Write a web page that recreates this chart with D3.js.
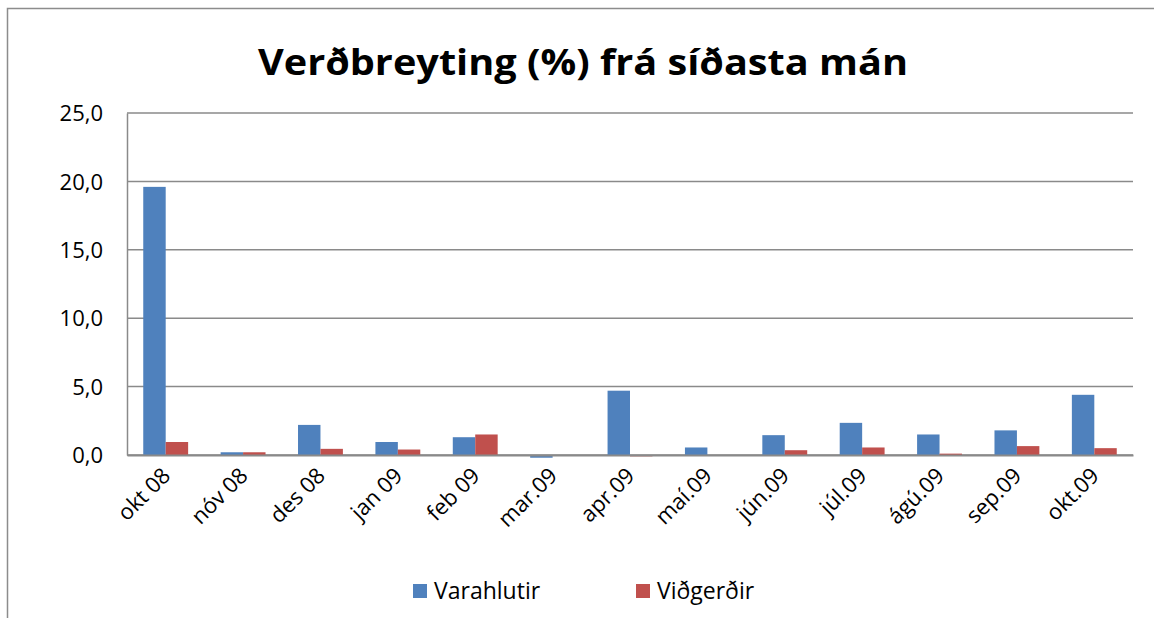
<!DOCTYPE html>
<html>
<head>
<meta charset="utf-8">
<script src="https://cdn.jsdelivr.net/npm/d3@7"></script>
<style>
  body { margin: 0; background: #fff; }
  text { font-family: "Open Sans", "DejaVu Sans", sans-serif; fill: #000; }
</style>
</head>
<body>
<div id="chart"></div>
<script>
const months = ["okt 08", "nóv 08", "des 08", "jan 09", "feb 09", "mar.09", "apr.09",
  "maí.09", "jún.09", "júl.09", "ágú.09", "sep.09", "okt.09"];
const varahlutir = [19.6, 0.2, 2.2, 0.95, 1.3, -0.2, 4.7, 0.55, 1.45, 2.35, 1.5, 1.8, 4.4];
const vidgerdir = [0.95, 0.2, 0.45, 0.4, 1.5, 0.0, -0.1, 0.0, 0.35, 0.55, 0.1, 0.65, 0.5];
const seriesNames = ["Varahlutir", "Viðgerðir"];
const seriesColors = ["#4f81bd", "#c0504d"];
const yTicks = [0, 5, 10, 15, 20, 25];

const W = 1154, H = 618;
const margin = {top: 113, right: 21, bottom: 163, left: 127};
const width = W - margin.left - margin.right,
  height = H - margin.top - margin.bottom;

const svg = d3.select("#chart").append("svg")
  .attr("width", W)
  .attr("height", H);

// outer chart frame
svg.append("path")
  .attr("d", "M7.5,620 V8.5 H1160")
  .attr("fill", "none")
  .attr("stroke", "#8c8c8c")
  .attr("stroke-width", 1.5);

svg.append("text")
  .attr("x", 583)
  .attr("y", 75)
  .attr("text-anchor", "middle")
  .attr("font-size", 36)
  .attr("font-weight", "bold")
  .attr("textLength", 650)
  .attr("lengthAdjust", "spacingAndGlyphs")
  .text("Verðbreyting (%) frá síðasta mán");

const g = svg.append("g")
  .attr("transform", "translate(" + margin.left + "," + margin.top + ")");

const x = d3.scaleBand().domain(months).range([0, width]).paddingInner(0.42).paddingOuter(0.21);
const x1 = d3.scaleBand().domain(seriesNames).range([0, x.bandwidth()]);
const y = d3.scaleLinear().domain([0, 25]).range([height, 0]);

// gridlines
g.append("g")
  .selectAll("line")
  .data(yTicks)
  .join("line")
  .attr("x1", 0)
  .attr("x2", width)
  .attr("y1", d => y(d))
  .attr("y2", d => y(d))
  .attr("stroke", "#8a8a8a")
  .attr("stroke-width", 1.5);

const rows = months.map((m, i) => ({m: m, vals: [varahlutir[i], vidgerdir[i]]}));

const groups = g.append("g")
  .selectAll("g")
  .data(rows)
  .join("g")
  .attr("transform", d => "translate(" + x(d.m) + ",0)");

groups.selectAll("rect")
  .data(d => d.vals.map((v, k) => ({k: k, v: v})))
  .join("rect")
  .attr("x", d => x1(seriesNames[d.k]))
  .attr("width", x1.bandwidth())
  .attr("y", d => y(Math.max(0, d.v)))
  .attr("height", d => Math.abs(y(d.v) - y(0)))
  .attr("fill", d => seriesColors[d.k]);

// y axis
const yAxis = g.append("g")
  .call(d3.axisLeft(y).tickValues(yTicks).tickSize(0).tickPadding(24)
    .tickFormat(d => d3.format(".1f")(d).replace(".", ",")));
yAxis.select(".domain").attr("stroke", "#8a8a8a").attr("stroke-width", 1.5);
yAxis.selectAll("text").attr("font-size", 22).attr("dy", "0.35em");

// x axis (baseline + rotated labels)
const xAxis = g.append("g")
  .attr("transform", "translate(0," + height + ")")
  .call(d3.axisBottom(x).tickSize(0).tickPadding(0));
xAxis.select(".domain").attr("stroke", "#8a8a8a").attr("stroke-width", 2);
xAxis.selectAll("text")
  .attr("font-size", 22)
  .attr("text-anchor", "end")
  .attr("dy", 0)
  .attr("y", 0)
  .attr("transform", "translate(6,22) rotate(-45)");

// legend
const legend = svg.append("g")
  .selectAll("g")
  .data(seriesNames)
  .join("g")
  .attr("transform", (d, i) => "translate(" + (413 + i * 223) + ",584)");
legend.append("rect")
  .attr("width", 14)
  .attr("height", 14)
  .attr("fill", (d, i) => seriesColors[i]);
legend.append("text")
  .attr("x", 21)
  .attr("y", 7)
  .attr("dy", "0.35em")
  .attr("font-size", 23)
  .text(d => d);
</script>
</body>
</html>
